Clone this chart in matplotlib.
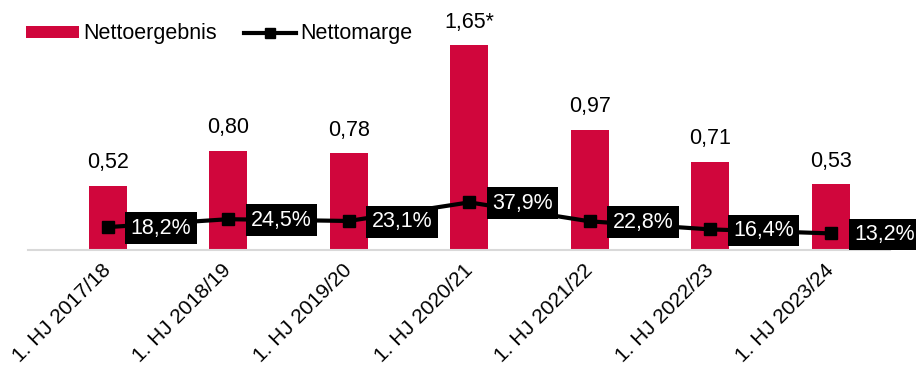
import matplotlib
matplotlib.use("Agg")
import matplotlib.pyplot as plt
import matplotlib.transforms as mtransforms
from matplotlib.lines import Line2D
from matplotlib.patches import Patch

plt.rcParams['font.family'] = ['Liberation Sans', 'DejaVu Sans']

categories = ["1. HJ 2017/18", "1. HJ 2018/19", "1. HJ 2019/20", "1. HJ 2020/21",
              "1. HJ 2021/22", "1. HJ 2022/23", "1. HJ 2023/24"]
nettoergebnis = [0.52, 0.80, 0.78, 1.65, 0.97, 0.71, 0.53]
nettoergebnis_labels = ["0,52", "0,80", "0,78", "1,65*", "0,97", "0,71", "0,53"]
nettomarge = [18.2, 24.5, 23.1, 37.9, 22.8, 16.4, 13.2]

BAR_COLOR = "#D0063C"
W, H = 916, 367

fig = plt.figure(figsize=(W / 100, H / 100), dpi=100)
ax = fig.add_axes([28 / W, (H - 250) / H, (890 - 28) / W, (250 - 20) / H])
ax2 = ax.twinx()

x = list(range(len(categories)))
ax.bar(x, nettoergebnis, width=0.315, color=BAR_COLOR, zorder=2)
ax.set_xlim(-0.66, 6.49)
ax.set_ylim(0, 1.855)
ax2.set_ylim(0, 183)

for xi, v, lab in zip(x, nettoergebnis, nettoergebnis_labels):
    ax.annotate(lab, (xi, v), xytext=(0, 23), textcoords="offset pixels",
                ha="center", va="center", fontsize=15.5, color="black")

ax2.plot(x, nettomarge, color="black", lw=3, marker="s", markersize=9,
         zorder=3)
for xi, v in zip(x, nettomarge):
    txt = f"{v:.1f}%".replace(".", ",")
    ax2.annotate(txt, (xi, v), xytext=(23, -1), textcoords="offset pixels",
                 ha="left", va="center", fontsize=15.5, color="white", zorder=4,
                 bbox=dict(boxstyle="square,pad=0.25", fc="black", ec="none"))

for a in (ax, ax2):
    for s in a.spines.values():
        s.set_visible(False)
    a.tick_params(left=False, right=False, labelleft=False, labelright=False,
                  bottom=False)
ax.spines['bottom'].set_visible(True)
ax.spines['bottom'].set_color("#D9D9D9")
ax.spines['bottom'].set_linewidth(1.5)

ax.set_xticks(x)
ax.set_xticklabels(categories, rotation=45, ha="right", va="top", fontsize=15)
offset = mtransforms.ScaledTranslation(7 / 100, -1 / 100, fig.dpi_scale_trans)
for lbl in ax.get_xticklabels():
    lbl.set_transform(lbl.get_transform() + offset)

handles = [Patch(facecolor=BAR_COLOR, edgecolor="none"),
           Line2D([0], [0], color="black", lw=3, marker="s", markersize=7)]
fig.legend(handles, ["Nettoergebnis", "Nettomarge"], loc="center left",
           bbox_to_anchor=(26 / W, 1 - 34 / H), ncol=2, frameon=False,
           fontsize=15.5, handlelength=2.45, handleheight=0.45, handletextpad=0.2,
           columnspacing=1.25, borderaxespad=0, borderpad=0)

fig.savefig("out.png", dpi=100)
